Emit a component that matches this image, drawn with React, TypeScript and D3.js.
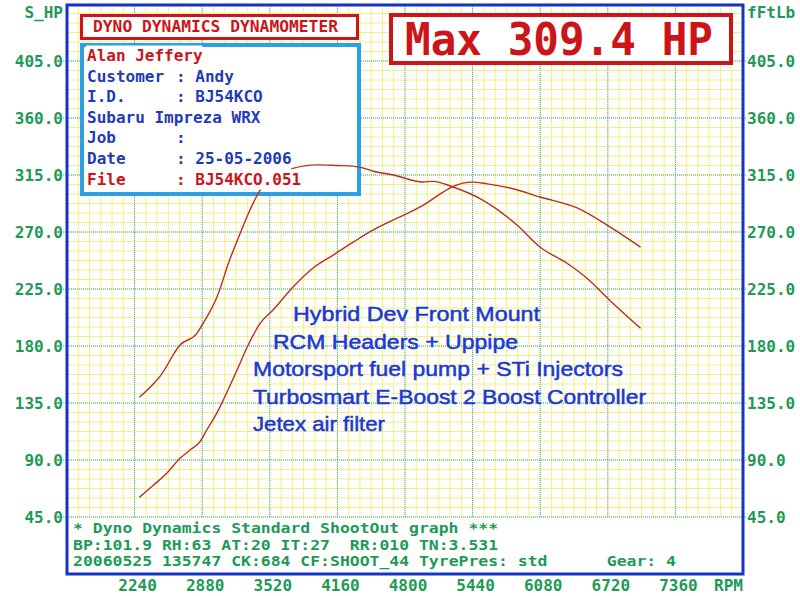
/**
 * Dyno Dynamics dynamometer sheet — power (S_HP) and torque (fFtLb) vs RPM
 */
import { useEffect, useRef } from 'react';
import * as d3 from 'd3';

// ── data ──
const RPM_TICKS = [2240, 2880, 3520, 4160, 4800, 5440, 6080, 6720, 7360];
const VALUE_TICKS = [45, 90, 135, 180, 225, 270, 315, 360, 405];

const POWER_RPM = [2285, 2417, 2544, 2670, 2765, 2860, 2923, 3017, 3080, 3160, 3210, 3305, 3430, 3550, 3740, 3930, 4120, 4310, 4500, 4690, 4880, 4970, 5160, 5255, 5440, 5580, 5795, 6080, 6430, 6740, 7030];
const POWER_HP = [60.5, 70, 79.5, 91.3, 97.9, 104.5, 113.7, 126.8, 137.4, 151.8, 161, 179, 198, 208.4, 226.6, 241.6, 251.8, 262, 271.6, 279.5, 287, 291, 301.5, 306, 309.4, 308, 304.7, 297.6, 289, 274, 258];

const TORQUE_RPM = [2285, 2417, 2480, 2670, 2830, 2890, 3020, 3140, 3240, 3330, 3430, 3730, 3970, 4160, 4310, 4380, 4500, 4690, 4970, 5065, 5255, 5540, 5860, 6080, 6330, 6520, 6740, 7030];
const TORQUE_FTLB = [139.5, 150, 156, 180.8, 190, 198, 218.7, 248, 269, 287, 303, 320, 323, 322.5, 322, 321, 318, 315, 309.5, 310, 305.5, 295, 275.5, 258, 245.5, 233.7, 216, 194];

const INFO_LINES = [
  { label: 'Alan Jeffery', value: null, red: true },
  { label: 'Customer', value: 'Andy', red: false },
  { label: 'I.D.', value: 'BJ54KCO', red: false },
  { label: 'Subaru Impreza WRX', value: null, red: false },
  { label: 'Job', value: '', red: false },
  { label: 'Date', value: '25-05-2006', red: false },
  { label: 'File', value: 'BJ54KCO.051', red: true },
];

const NOTES = [
  'Hybrid Dev Front Mount',
  'RCM Headers + Uppipe',
  'Motorsport fuel pump + STi Injectors',
  'Turbosmart E-Boost 2 Boost Controller',
  'Jetex air filter',
];

const FOOTER_LINES = [
  '* Dyno Dynamics Standard ShootOut graph ***',
  'BP:101.9 RH:63 AT:20 IT:27  RR:010 TN:3.531',
  '20060525 135747 CK:684 CF:SHOOT_44 TyrePres: std      Gear: 4',
];

const TITLE = 'DYNO DYNAMICS DYNAMOMETER';
const MAX_LABEL = 'Max 309.4 HP';

const MONO = '"DejaVu Sans Mono", "Liberation Mono", monospace';
const GREEN = '#1d9a57';
const RED = '#cc1518';
const INK_BLUE = '#1f3bb5';
const CURVE = '#b8301e';

export default function App() {
  const svgRef = useRef<SVGSVGElement>(null);
  const width = 800;
  const height = 596;

  useEffect(() => {
    if (!svgRef.current) return;
    const svg = d3.select(svgRef.current);
    svg.selectAll('*').remove();

    const frame = { left: 67, right: 743, top: 4, bottom: 574 };
    const x = d3.scaleLinear().domain([1600, 8000]).range([frame.left, frame.right]);
    const y = d3.scaleLinear().domain([0, 450]).range([frame.bottom, frame.top]);

    svg.append('rect').attr('width', width).attr('height', height).attr('fill', '#fff');

    // ── grid (yellow minor, dotted blue major) ──
    const gridTop = y(450);
    const gridBottom = y(45);
    const grid = svg.append('g');

    const minorX = d3.range(1600, 8000 + 1, 640 / 6);
    const minorY = d3.range(45, 450 + 0.1, 7.5);
    grid.selectAll('.mx').data(minorX).enter().append('line')
      .attr('x1', (d) => x(d)).attr('x2', (d) => x(d))
      .attr('y1', gridTop).attr('y2', gridBottom)
      .attr('stroke', '#f4ef84').attr('stroke-width', 1);
    grid.selectAll('.my').data(minorY).enter().append('line')
      .attr('x1', frame.left).attr('x2', frame.right)
      .attr('y1', (d) => y(d)).attr('y2', (d) => y(d))
      .attr('stroke', '#f4ef84').attr('stroke-width', 1);

    grid.selectAll('.Mx').data(RPM_TICKS).enter().append('line')
      .attr('x1', (d) => x(d)).attr('x2', (d) => x(d))
      .attr('y1', gridTop).attr('y2', gridBottom)
      .attr('stroke', '#3ba6dc').attr('stroke-width', 1).attr('stroke-dasharray', '1,1');
    grid.selectAll('.My').data(VALUE_TICKS).enter().append('line')
      .attr('x1', frame.left - 4).attr('x2', frame.right + 4)
      .attr('y1', (d) => y(d)).attr('y2', (d) => y(d))
      .attr('stroke', '#3ba6dc').attr('stroke-width', 1).attr('stroke-dasharray', '1,1');

    // ── title box + info box (curves are drawn over them, text rows on top) ──
    svg.append('rect')
      .attr('x', 81.5).attr('y', 15.5).attr('width', 276).attr('height', 23)
      .attr('fill', '#fff').attr('stroke', RED).attr('stroke-width', 3);
    svg.append('rect')
      .attr('x', 82).attr('y', 45).attr('width', 277).attr('height', 149)
      .attr('fill', '#fff').attr('stroke', '#2aa0e8').attr('stroke-width', 4);

    // ── curves ──
    const line = d3.line<[number, number]>()
      .x((d) => x(d[0]))
      .y((d) => y(d[1]))
      .curve(d3.curveMonotoneX);

    svg.append('path')
      .datum(POWER_RPM.map((r, i) => [r, POWER_HP[i]] as [number, number]))
      .attr('d', line)
      .attr('fill', 'none')
      .attr('stroke', CURVE)
      .attr('stroke-width', 1.4);

    svg.append('path')
      .datum(TORQUE_RPM.map((r, i) => [r, TORQUE_FTLB[i]] as [number, number]))
      .attr('d', line)
      .attr('fill', 'none')
      .attr('stroke', CURVE)
      .attr('stroke-width', 1.4);

    // ── outer frame ──
    svg.append('rect')
      .attr('x', frame.left).attr('y', frame.top + 1)
      .attr('width', frame.right - frame.left).attr('height', frame.bottom - frame.top - 1)
      .attr('fill', 'none').attr('stroke', '#1434c6').attr('stroke-width', 3);

    // ── axis labels ──
    const axisText = svg.append('g')
      .attr('font-family', MONO).attr('font-weight', 'bold')
      .attr('font-size', 16).attr('fill', GREEN);
    const fmt = d3.format('.1f');
    axisText.selectAll('.yl').data(VALUE_TICKS).enter().append('text')
      .attr('x', 63).attr('y', (d) => y(d) + 6)
      .attr('text-anchor', 'end')
      .text((d) => fmt(d));
    axisText.selectAll('.yr').data(VALUE_TICKS).enter().append('text')
      .attr('x', 747).attr('y', (d) => y(d) + 6)
      .text((d) => fmt(d));
    axisText.append('text').attr('x', 63).attr('y', 18).attr('text-anchor', 'end').text('S_HP');
    axisText.append('text').attr('x', 747).attr('y', 18).text('fFtLb');

    axisText.selectAll('.xl').data(RPM_TICKS).enter().append('text')
      .attr('x', (d) => x(d) + 3).attr('y', 591)
      .attr('text-anchor', 'middle')
      .text((d) => d);
    axisText.append('text').attr('x', 714).attr('y', 591).text('RPM');

    // ── footer ──
    svg.selectAll('.ft').data(FOOTER_LINES).enter().append('text')
      .attr('x', 73).attr('y', (_, i) => 533 + i * 16.5)
      .attr('font-family', MONO).attr('font-weight', 'bold')
      .attr('font-size', 14.5).attr('fill', GREEN)
      .attr('textLength', (d) => d.length * 9.885)
      .attr('lengthAdjust', 'spacingAndGlyphs')
      .attr('xml:space', 'preserve')
      .style('white-space', 'pre')
      .text((d) => d);

    // ── notes ──
    const noteX = [293, 273, 253, 253, 253];
    const noteW = [247, 245, 370, 393, 132];
    svg.selectAll('.note').data(NOTES).enter().append('text')
      .attr('x', (_, i) => noteX[i]).attr('y', (_, i) => 321 + i * 27.5)
      .attr('font-family', '"Liberation Sans", Arial, sans-serif')
      .attr('font-size', 21)
      .attr('fill', '#1b39d2')
      .attr('stroke', '#1b39d2')
      .attr('stroke-width', 0.5)
      .attr('textLength', (_, i) => noteW[i])
      .attr('lengthAdjust', 'spacingAndGlyphs')
      .text((d) => d);

    // ── title text ──
    svg.append('text')
      .attr('x', 93).attr('y', 32)
      .attr('font-family', MONO).attr('font-weight', 'bold').attr('font-size', 16)
      .attr('fill', RED)
      .attr('textLength', 245).attr('lengthAdjust', 'spacingAndGlyphs')
      .text(TITLE);

    // ── info rows: text cells have a white background, hiding the curve ──
    const charW = 9.6;
    const info = svg.append('g')
      .attr('font-family', MONO).attr('font-weight', 'bold').attr('font-size', 16);
    INFO_LINES.forEach((row, i) => {
      const yy = 61 + i * 20.6;
      const color = row.red ? RED : INK_BLUE;
      const valueText = row.value !== null ? `: ${row.value}` : '';
      const endX = row.value !== null ? 176 + valueText.length * charW : 87 + row.label.length * charW;
      info.append('rect')
        .attr('x', 86).attr('y', yy - 15.5)
        .attr('width', endX - 86).attr('height', 20.6)
        .attr('fill', '#fff');
      info.append('text').attr('x', 87).attr('y', yy).attr('fill', color).text(row.label);
      if (row.value !== null) {
        info.append('text').attr('x', 176).attr('y', yy).attr('fill', color)
          .attr('xml:space', 'preserve').style('white-space', 'pre')
          .text(valueText);
      }
    });

    // ── max box ──
    svg.append('rect')
      .attr('x', 391).attr('y', 15).attr('width', 340).attr('height', 48)
      .attr('fill', '#fff').attr('stroke', RED).attr('stroke-width', 4);
    svg.append('text')
      .attr('x', 405).attr('y', 55)
      .attr('font-family', MONO).attr('font-weight', 'bold').attr('font-size', 44)
      .attr('fill', RED)
      .attr('textLength', 308).attr('lengthAdjust', 'spacingAndGlyphs')
      .text(MAX_LABEL);
  }, []);

  return (
    <div style={{ position: 'absolute', left: 0, top: 0 }}>
      <svg ref={svgRef} width={width} height={height} style={{ display: 'block' }} />
    </div>
  );
}
